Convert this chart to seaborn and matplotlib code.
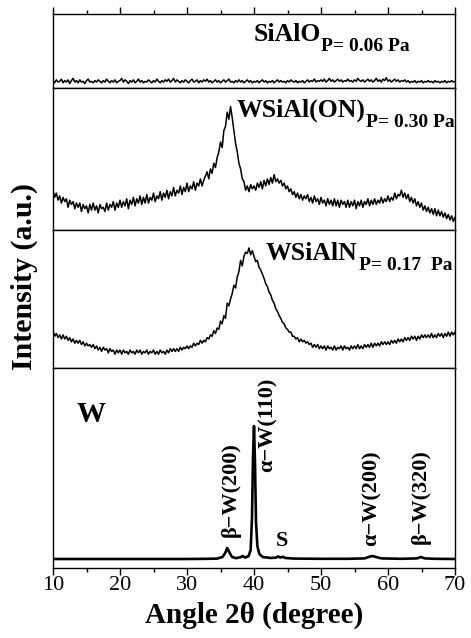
"""
XRD patterns of SiAlO, WSiAl(ON), WSiAlN and W films, stacked panels.
"""

import numpy as np
import pandas as pd
import matplotlib
matplotlib.use("Agg")
import matplotlib.pyplot as plt
import seaborn as sns
from matplotlib.ticker import MultipleLocator

# 2theta grid shared by the three amorphous films (0.25 deg step)
two_theta = np.arange(10.0, 70.001, 0.25)

# SiAlO, P = 0.06 Pa (normalised intensity)
sialo = [
    .10, .07, .11, .08, .09, .12, .07, .10,
    .08, .11, .06, .10, .13, .08, .10, .07,
    .11, .08, .09, .06, .10, .12, .08, .09,
    .07, .10, .08, .11, .09, .07, .10, .08,
    .12, .09, .07, .10, .08, .11, .07, .09,
    .10, .13, .08, .11, .09, .06, .10, .08,
    .11, .07, .09, .12, .08, .10, .07, .09,
    .08, .11, .09, .07, .10, .08, .12, .09,
    .07, .10, .08, .11, .09, .12, .08, .10,
    .13, .08, .11, .09, .07, .10, .08, .11,
    .09, .07, .10, .12, .08, .09, .11, .07,
    .10, .08, .11, .09, .12, .08, .10, .07,
    .09, .11, .08, .10, .07, .09, .11, .08,
    .10, .12, .08, .09, .07, .10, .08, .11,
    .08, .10, .07, .09, .11, .08, .10, .07,
    .09, .08, .10, .07, .09, .11, .08, .10,
    .07, .09, .08, .10, .07, .09, .11, .08,
    .10, .08, .09, .07, .10, .08, .11, .09,
    .08, .10, .07, .09, .08, .10, .07, .09,
    .11, .08, .10, .09, .12, .08, .10, .09,
    .11, .09, .12, .08, .10, .13, .09, .11,
    .08, .10, .12, .09, .11, .08, .10, .09,
    .12, .09, .10, .08, .11, .09, .13, .10,
    .09, .11, .08, .10, .12, .09, .11, .08,
    .10, .13, .09, .11, .08, .12, .10, .14,
    .09, .11, .08, .10, .12, .09, .11, .08,
    .10, .09, .11, .08, .10, .07, .09, .08,
    .10, .07, .09, .08, .10, .07, .09, .08,
    .10, .08, .09, .07, .10, .08, .09, .07,
    .09, .08, .10, .07, .09, .08, .10, .08,
    .09,
]

# WSiAl(ON), P = 0.30 Pa
wsialon = [
    .28, .23, .26, .21, .24, .19, .23, .20,
    .22, .16, .21, .18, .20, .15, .19, .16,
    .19, .13, .18, .15, .17, .12, .18, .14,
    .19, .14, .17, .12, .18, .15, .16, .13,
    .19, .14, .18, .16, .20, .14, .19, .16,
    .21, .16, .20, .17, .22, .15, .21, .18,
    .23, .17, .22, .19, .24, .18, .23, .19,
    .25, .19, .23, .21, .26, .20, .24, .22,
    .27, .21, .26, .23, .28, .22, .27, .24,
    .30, .24, .28, .26, .31, .25, .30, .27,
    .33, .27, .31, .29, .34, .28, .33, .31,
    .36, .31, .35, .38, .41, .36, .43, .40,
    .47, .44, .51, .55, .62, .58, .70, .73,
    .83, .78, .87, .79, .70, .61, .55, .47,
    .43, .36, .34, .28, .31, .27, .32, .29,
    .31, .28, .33, .30, .34, .29, .35, .31,
    .36, .32, .37, .33, .39, .34, .36, .33,
    .35, .31, .33, .29, .31, .27, .29, .25,
    .27, .23, .26, .22, .25, .21, .24, .22,
    .25, .20, .23, .19, .24, .20, .22, .18,
    .23, .19, .21, .17, .22, .18, .21, .17,
    .22, .17, .21, .16, .21, .18, .20, .16,
    .21, .16, .20, .17, .21, .15, .20, .17,
    .21, .16, .20, .18, .22, .17, .21, .18,
    .22, .18, .21, .19, .23, .19, .22, .20,
    .24, .20, .23, .21, .26, .22, .25, .24,
    .28, .23, .26, .22, .25, .20, .23, .19,
    .22, .17, .20, .16, .19, .14, .17, .13,
    .16, .12, .15, .11, .15, .10, .14, .10,
    .13, .09, .12, .08, .11, .07, .10, .06,
    .09,
]

# WSiAlN, P = 0.17 Pa
wsialn = [
    .27, .23, .25, .22, .24, .21, .24, .21,
    .23, .20, .22, .19, .21, .18, .20, .18,
    .20, .17, .19, .16, .18, .16, .17, .15,
    .17, .14, .16, .13, .15, .12, .15, .13,
    .14, .11, .14, .12, .13, .10, .13, .11,
    .13, .10, .13, .11, .12, .10, .13, .11,
    .12, .10, .13, .11, .13, .10, .12, .11,
    .13, .10, .12, .11, .13, .10, .12, .10,
    .13, .11, .12, .10, .13, .11, .14, .12,
    .14, .12, .14, .12, .15, .13, .15, .14,
    .16, .14, .16, .15, .18, .16, .18, .17,
    .20, .18, .20, .19, .22, .21, .24, .23,
    .27, .25, .29, .28, .34, .32, .38, .36,
    .47, .45, .50, .54, .60, .58, .66, .70,
    .78, .74, .81, .84, .83, .87, .82, .85,
    .81, .77, .78, .73, .71, .68, .65, .61,
    .59, .55, .53, .49, .47, .43, .41, .38,
    .36, .33, .32, .29, .28, .26, .26, .23,
    .23, .21, .22, .19, .21, .19, .20, .18,
    .19, .17, .18, .15, .17, .15, .17, .14,
    .16, .14, .16, .13, .16, .14, .15, .13,
    .16, .13, .15, .14, .16, .13, .16, .14,
    .15, .13, .16, .14, .16, .14, .17, .14,
    .16, .14, .17, .15, .17, .15, .18, .15,
    .18, .16, .18, .16, .19, .17, .19, .17,
    .19, .17, .20, .18, .20, .18, .21, .19,
    .21, .19, .22, .20, .22, .20, .23, .21,
    .23, .20, .23, .21, .24, .22, .24, .22,
    .24, .22, .25, .22, .24, .22, .25, .23,
    .25, .22, .25, .23, .26, .23, .26, .24,
    .26,
]

# W film: sharp crystalline peaks, non-uniform sampling around reflections
w_theta = [
    10, 14, 18, 22, 26, 30, 33, 34.5, 35.3, 35.7, 36.0, 36.3, 36.7, 37.3,
    38.0, 38.3, 38.7, 39.2, 39.5, 39.7, 39.85, 40.0, 40.15, 40.3, 40.5, 40.8,
    41.3, 42.5, 43.3, 43.6, 43.9, 44.3, 44.7, 46, 50, 54, 56.5, 57.3, 57.7,
    58.2, 59, 62, 64.3, 64.9, 65.5, 67, 70,
]
w_int = [
    .045, .045, .045, .045, .045, .045, .046, .047, .055, .075, .100, .080, .056, .049,
    .054, .060, .052, .060, .090, .250, .550, .710, .520, .230, .110, .070,
    .055, .050, .052, .058, .052, .056, .050, .047, .046, .046, .048, .057, .060,
    .055, .048, .046, .048, .055, .048, .046, .045,
]

# (values, film name, pressure subscript, label x, label baseline y)
panels = [
    (sialo, "SiAlO", "P= 0.06 Pa", 39.9, 0.63),
    (wsialon, "WSiAl(ON)", "P= 0.30 Pa", 37.4, 0.80),
    (wsialn, "WSiAlN", "P= 0.17  Pa", 41.8, 0.78),
]

peak_labels = ["β−W(200)", "α−W(110)", "α−W(200)", "β−W(320)"]
peak_pos = [36.5, 42.1, 57.6, 64.9]
peak_y = [0.155, 0.48, 0.11, 0.12]

sns.set_theme(style="ticks")
plt.rcParams["font.family"] = ["Liberation Serif", "DejaVu Serif"]
plt.rcParams["text.color"] = "black"
plt.rcParams["axes.labelcolor"] = "black"
plt.rcParams["xtick.color"] = "black"

fig = plt.figure(figsize=(4.71, 6.38), dpi=100)
left, width = 53 / 471, 402 / 471
# top and bottom pixel rows of each panel
rows = [(14, 88), (88, 230), (230, 368), (368, 568)]
axes = []
for top, bot in rows:
    ax = fig.add_axes([left, 1 - bot / 638, width, (bot - top) / 638])
    axes.append(ax)

for i, (vals, name, sub, lx, ly) in enumerate(panels):
    ax = axes[i]
    df = pd.DataFrame({"theta": two_theta, "I": vals})
    sns.lineplot(data=df, x="theta", y="I", ax=ax, color="black", linewidth=1.1)
    main = ax.text(lx, ly, name, fontsize=18.5, fontweight="bold",
                   ha="left", va="baseline", clip_on=False)
    ax.annotate(sub, xy=(1, 0), xycoords=main, xytext=(0.5, -3.5),
                textcoords="offset points", fontsize=14, fontweight="bold",
                ha="left", va="baseline", annotation_clip=False)

ax = axes[3]
dfw = pd.DataFrame({"theta": w_theta, "I": w_int})
sns.lineplot(data=dfw, x="theta", y="I", ax=ax, color="black", linewidth=1.9)
ax.text(13.6, 0.73, "W", fontsize=21, fontweight="bold", ha="left", va="baseline")
for lab, px, py in zip(peak_labels, peak_pos, peak_y):
    ax.text(px, py, lab, rotation=90, fontsize=16, fontweight="bold",
            ha="center", va="bottom")
ax.text(44.2, 0.11, "S", fontsize=16, fontweight="bold", ha="center", va="baseline")

for i, ax in enumerate(axes):
    ax.set_xlim(10, 70)
    ax.set_ylim(0, 1)
    ax.set_ylabel("")
    ax.set_xlabel("")
    ax.set_yticks([])
    for s in ax.spines.values():
        s.set_visible(True)
        s.set_linewidth(1.0)
        s.set_color("black")
    ax.xaxis.set_major_locator(MultipleLocator(10))
    ax.xaxis.set_minor_locator(MultipleLocator(5))
    ax.tick_params(axis="x", which="major", direction="out", length=5, width=1,
                   color="black", labelsize=16, pad=1)
    ax.tick_params(axis="x", which="minor", direction="out", length=3, width=1,
                   color="black")
    if i == 0:
        ax.tick_params(axis="x", which="both", top=True, bottom=False,
                       labeltop=False, labelbottom=False)
    elif i == 3:
        ax.tick_params(axis="x", which="both", top=False, bottom=True,
                       labelbottom=True)
    else:
        ax.tick_params(axis="x", which="both", top=False, bottom=False,
                       labelbottom=False)

axes[3].set_xlabel("Angle 2θ (degree)", fontsize=21, fontweight="bold", labelpad=4.5)
fig.text(24 / 471, 1 - 276 / 638, "Intensity (a.u.)", rotation=90, fontsize=21.5,
         fontweight="bold", ha="center", va="center")

fig.savefig("out.png", dpi=100)
